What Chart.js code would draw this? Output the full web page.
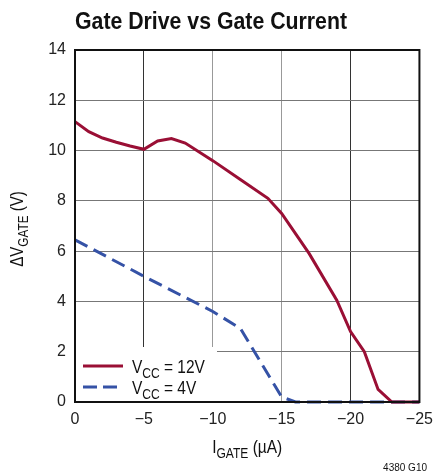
<!DOCTYPE html>
<html>
<head>
<meta charset="utf-8">
<script src="https://cdn.jsdelivr.net/npm/chart.js@4/dist/chart.umd.min.js"></script>
<style>
  body { margin: 0; background: #fff; }
  #wrap { width: 441px; height: 474px; }
</style>
</head>
<body>
<div id="wrap"><canvas id="chart" width="441" height="474"></canvas></div>
<script>
// values
const i12 = [0, -1, -2, -3, -4, -5, -6, -7, -8, -10, -12, -14, -15, -17, -19, -20, -21, -22, -23, -25];
const v12 = [11.15, 10.75, 10.5, 10.33, 10.18, 10.05, 10.38, 10.48, 10.3, 9.6, 8.85, 8.1, 7.5, 5.9, 4.05, 2.8, 2.0, 0.5, 0, 0];
const i4 = [0, -5, -10, -12, -15, -16, -25];
const v4 = [6.45, 5.0, 3.6, 2.93, 0.2, 0, 0];
const xTicks = [0, -5, -10, -15, -20, -25];
const yTicks = [0, 2, 4, 6, 8, 10, 12, 14];

const RED = "#9a0f35";
const BLUE = "#3552a6";
const FONT = "'Liberation Sans Narrow', 'Liberation Sans', Arial, sans-serif";

const toPts = (xs, ys) => xs.map((x, i) => ({ x: x, y: ys[i] }));

// text with subscript pieces, squeezed sideways to look like a condensed face
function drawParts(ctx, x, y, parts, size, align, squeeze) {
  const sq = squeeze || 1;
  let total = 0;
  parts.forEach(([t, sub]) => {
    ctx.font = `${sub ? Math.round(size * 0.78) : size}px ${FONT}`;
    total += ctx.measureText(t).width * sq;
  });
  let cx = align === "center" ? x - total / 2 : x;
  ctx.textBaseline = "alphabetic";
  ctx.textAlign = "left";
  parts.forEach(([t, sub]) => {
    ctx.font = `${sub ? Math.round(size * 0.78) : size}px ${FONT}`;
    ctx.save();
    ctx.translate(cx, sub ? y + size * 0.25 : y);
    ctx.scale(sq, 1);
    ctx.fillText(t, 0, 0);
    ctx.restore();
    cx += ctx.measureText(t).width * sq;
  });
}

const decor = {
  id: "decor",
  beforeDatasetsDraw(chart) {
    const { ctx, chartArea: a } = chart;
    // legend box hides the grid
    ctx.save();
    ctx.fillStyle = "#fff";
    ctx.fillRect(a.left + 1, 347, 141, a.bottom - 347);
    ctx.restore();
  },
  afterDraw(chart) {
    const { ctx, chartArea: a } = chart;
    ctx.save();
    ctx.strokeStyle = "#111";
    ctx.lineWidth = 2;
    ctx.strokeRect(a.left, a.top, a.right - a.left, a.bottom - a.top);

    // legend
    ctx.lineWidth = 3;
    ctx.strokeStyle = RED;
    ctx.beginPath(); ctx.moveTo(83, 366); ctx.lineTo(123, 366); ctx.stroke();
    ctx.strokeStyle = BLUE;
    ctx.setLineDash([14, 6]);
    ctx.beginPath(); ctx.moveTo(83, 387); ctx.lineTo(123, 387); ctx.stroke();
    ctx.setLineDash([]);
    ctx.fillStyle = "#111";
    drawParts(ctx, 132, 373, [["V", 0], ["CC", 1], [" = 12V", 0]], 18, "left", 0.86);
    drawParts(ctx, 132, 394, [["V", 0], ["CC", 1], [" = 4V", 0]], 18, "left", 0.86);

    // title, squeezed to the condensed width of the original
    ctx.font = `bold 24px ${FONT}`;
    ctx.textBaseline = "alphabetic";
    ctx.textAlign = "left";
    const tw = ctx.measureText("Gate Drive vs Gate Current").width;
    ctx.save();
    ctx.translate(75, 29);
    ctx.scale(272 / tw, 1);
    ctx.fillText("Gate Drive vs Gate Current", 0, 0);
    ctx.restore();

    // axis titles
    drawParts(ctx, (a.left + a.right) / 2, 453, [["I", 0], ["GATE", 1], [" (µA)", 0]], 18, "center", 0.86);
    ctx.save();
    ctx.translate(23, 229);
    ctx.rotate(-Math.PI / 2);
    drawParts(ctx, 0, 0, [["ΔV", 0], ["GATE", 1], [" (V)", 0]], 18, "center", 0.84);
    ctx.restore();

    ctx.font = `10px ${FONT}`;
    ctx.textAlign = "right";
    ctx.fillText("4380 G10", 427, 471);
    ctx.restore();
  }
};

new Chart(document.getElementById("chart"), {
  type: "line",
  data: {
    datasets: [
      {
        label: "VCC = 12V",
        data: toPts(i12, v12),
        borderColor: RED,
        borderWidth: 3,
        pointRadius: 0,
        tension: 0,
        clip: 4,
      },
      {
        label: "VCC = 4V",
        data: toPts(i4, v4),
        borderColor: BLUE,
        borderWidth: 3,
        borderDash: [14, 7],
        pointRadius: 0,
        tension: 0,
        clip: 4,
      },
    ],
  },
  options: {
    responsive: false,
    animation: false,
    layout: { padding: { left: 0, top: 50, right: 15, bottom: 0 } },
    plugins: { legend: { display: false }, tooltip: { enabled: false } },
    scales: {
      x: {
        type: "linear",
        min: -25,
        max: 0,
        reverse: true,
        afterFit: (s) => { s.height = 72; },
        afterBuildTicks: (s) => { s.ticks = xTicks.map((v) => ({ value: v })); },
        ticks: {
          padding: 8,
          color: "#222",
          font: { family: FONT, size: 16 },
          callback: (v) => (v === 0 ? "0" : "\u2212" + Math.abs(v)),
        },
        grid: {
          drawTicks: false,
          color: (c) => (c.tick && (c.tick.value === -5 || c.tick.value === -20) ? "#333" : "#999"),
        },
        border: { display: false },
      },
      y: {
        min: 0,
        max: 14,
        afterFit: (s) => { s.width = 75; },
        afterBuildTicks: (s) => { s.ticks = yTicks.map((v) => ({ value: v })); },
        ticks: {
          padding: 9,
          color: "#222",
          font: { family: FONT, size: 16 },
        },
        grid: { drawTicks: false, color: "#777" },
        border: { display: false },
      },
    },
  },
  plugins: [decor],
});
</script>
</body>
</html>
